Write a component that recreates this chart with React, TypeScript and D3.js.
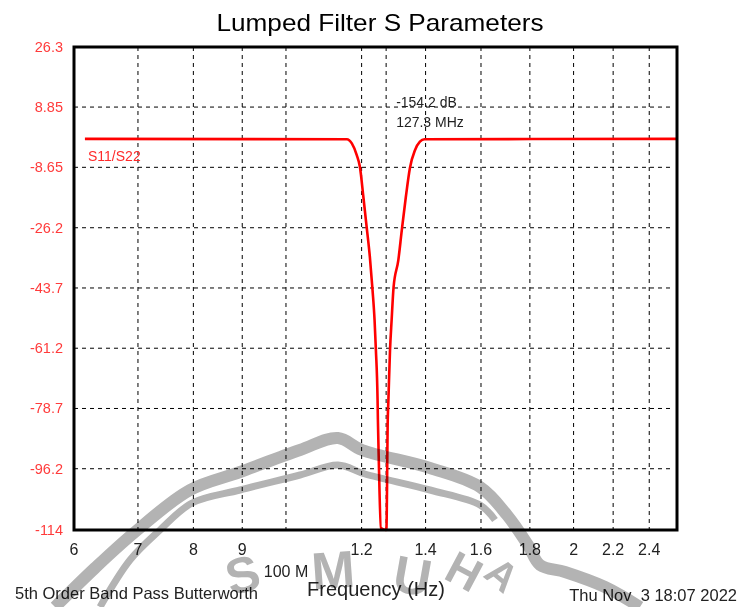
import React from "react";
import * as d3 from "d3";

// ---- data ----
const freqMHz = [61.6, 115.8, 117.2, 118.6, 119.5, 120.5, 121.5, 122.4, 123.2, 123.8, 124.2, 124.7, 124.8, 125.1, 125.7, 127.3, 127.4, 127.8, 128.0, 128.5, 129.0, 129.6, 131.1, 132.2, 133.5, 134.8, 136.5, 138.1, 139.6, 256.6];
const s11dB = [-0.4, -0.5, -1.7, -5.1, -8.5, -17.2, -26.3, -34.6, -44.3, -53.0, -61.7, -76.2, -82.0, -95.1, -113.4, -154.2, -113.4, -82.0, -76.2, -61.7, -53.0, -43.5, -35.6, -26.9, -17.2, -8.9, -3.6, -1.2, -0.5, -0.4];
const yTicks = [26.3, 8.85, -8.65, -26.2, -43.7, -61.2, -78.7, -96.2, -114];
const yTickLabels = ["26.3", "8.85", "-8.65", "-26.2", "-43.7", "-61.2", "-78.7", "-96.2", "-114"];
const xTicksMHz = [60, 70, 80, 90, 120, 140, 160, 180, 200, 220, 240];
const xTickLabels = ["6", "7", "8", "9", "1.2", "1.4", "1.6", "1.8", "2", "2.2", "2.4"];
const xGridMHz = [70, 80, 90, 100, 120, 140, 160, 180, 200, 220, 240];
const decadeMHz = 100;
const decadeLabel = "100 M";
const markerMHz = 127.3;
const markerLines = ["-154.2 dB", "127.3 MHz"];
const seriesName = "S11/S22";
const title = "Lumped Filter S Parameters";
const xTitle = "Frequency (Hz)";
const leftNote = "5th Order Band Pass Butterworth";
const rightNote = "Thu Nov  3 18:07 2022";
const watermarkLetters = ["S", "M", "U", "H", "A"];
const xDomainMHz = [60, 256.6];
const yDomain = [-114, 26.3];

const W = 739, H = 607;
const L = 74, R = 677, T = 47, B = 530;

export default function App() {
  const x = d3.scaleLog().domain(xDomainMHz).range([L, R]);
  const y = d3.scaleLinear().domain(yDomain).range([B, T]).clamp(true);
  const pts = freqMHz.map((f, i) => [f, s11dB[i]] as [number, number]);
  const line = d3.line<[number, number]>().x(d => x(d[0])).y(d => y(d[1])).curve(d3.curveMonotoneX);

  const font = "'Liberation Sans', Arial, sans-serif";
  const gridStyle = { stroke: "#000", strokeWidth: 1, strokeDasharray: "4,4" };

  // watermark decoration
  const wm = d3.line().curve(d3.curveCatmullRom);
  const outer: [number, number][] = [[55, 607], [95, 568], [135, 532], [190, 490], [240, 472], [300, 450], [338, 438], [362, 450], [430, 468], [480, 487], [507, 515], [528, 545], [540, 565], [565, 572], [605, 587], [640, 607]];
  const inner: [number, number][] = [[100, 607], [130, 560], [160, 530], [192, 503], [240, 490], [300, 475], [338, 465], [365, 474], [430, 490], [480, 505], [495, 520]];
  const letterPos = [
    { x: 242, y: 592, r: -15, s: 50 },
    { x: 333, y: 588, r: -4, s: 52 },
    { x: 413, y: 594, r: 10, s: 52 },
    { x: 466, y: 588, r: 28, s: 46 },
    { x: 506, y: 590, r: 40, s: 40 },
  ];

  return (
    <svg width={W} height={H} style={{ position: "absolute", left: 0, top: 0, background: "#fff" }} fontFamily={font}>
      <rect x={0} y={0} width={W} height={H} fill="#fff" />
      <text x={380} y={31} textAnchor="middle" fontSize={24} fill="#000" textLength={327} lengthAdjust="spacingAndGlyphs">{title}</text>

      <defs>
        <clipPath id="plotclip"><rect x={L} y={T} width={R - L} height={B - T} /></clipPath>
      </defs>
      {/* grid */}
      <g clipPath="url(#plotclip)">
        {yTicks.slice(1, -1).map((t, i) => (
          <line key={"hy" + i} x1={L} x2={R - 4} y1={y(t)} y2={y(t)} {...gridStyle} />
        ))}
        {xGridMHz.map((f, i) => (
          <line key={"vx" + i} x1={x(f)} x2={x(f)} y1={T} y2={B} {...gridStyle} />
        ))}
        <line x1={x(markerMHz)} x2={x(markerMHz)} y1={T} y2={B} {...gridStyle} />
      </g>

      {/* curve */}
      <path d={line(pts) || ""} fill="none" stroke="#ff0000" strokeWidth={2.6} strokeLinejoin="round" />

      {/* frame */}
      <rect x={L} y={T} width={R - L} height={B - T} fill="none" stroke="#000" strokeWidth={3} />

      {/* y labels */}
      {yTicks.map((t, i) => (
        <text key={"yl" + i} x={63} y={y(t) + 5} textAnchor="end" fontSize={14.5} fill="#ff3b3b">{yTickLabels[i]}</text>
      ))}
      {/* x labels */}
      {xTicksMHz.map((f, i) => (
        <text key={"xl" + i} x={x(f)} y={555} textAnchor="middle" fontSize={16} fill="#222">{xTickLabels[i]}</text>
      ))}
      <text x={x(decadeMHz)} y={577} textAnchor="middle" fontSize={16} fill="#222">{decadeLabel}</text>
      <text x={376} y={596} textAnchor="middle" fontSize={20} fill="#222">{xTitle}</text>
      <text x={15} y={599} fontSize={16.5} fill="#222">{leftNote}</text>
      <text x={737} y={601} textAnchor="end" fontSize={16.5} fill="#222" style={{ whiteSpace: "pre" }}>{rightNote}</text>

      {/* legend + marker annotation */}
      <text x={88} y={160.5} fontSize={14} fill="#ff2a2a">{seriesName}</text>
      <text x={x(markerMHz) + 10} y={107} fontSize={14} fill="#222">{markerLines[0]}</text>
      <text x={x(markerMHz) + 10} y={127} fontSize={14} fill="#222">{markerLines[1]}</text>

      {/* watermark */}
      <g style={{ mixBlendMode: "multiply" }}>
        <path d={wm(outer) || ""} fill="none" stroke="#b3b3b3" strokeWidth={12} />
        <path d={wm(inner) || ""} fill="none" stroke="#b3b3b3" strokeWidth={7} />
        {watermarkLetters.map((c, i) => (
          <text key={"wm" + i} x={letterPos[i].x} y={letterPos[i].y} fontSize={letterPos[i].s} fontWeight="bold" fill="#b3b3b3" textAnchor="middle"
            transform={`rotate(${letterPos[i].r} ${letterPos[i].x} ${letterPos[i].y - 20})`}>{c}</text>
        ))}
      </g>
    </svg>
  );
}
